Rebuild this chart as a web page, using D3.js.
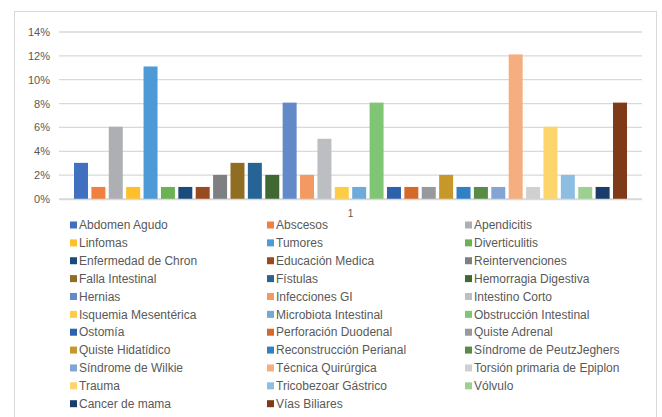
<!DOCTYPE html>
<html><head><meta charset="utf-8">
<script src="https://cdn.jsdelivr.net/npm/d3@7"></script>
<style>html,body{margin:0;padding:0;background:#fff;}svg{display:block;}</style>
</head><body>
<svg id="c" width="662" height="417"></svg>
<script>
const categories = ["1"];
const seriesNames = ["Abdomen Agudo","Abscesos","Apendicitis","Linfomas","Tumores","Diverticulitis","Enfermedad de Chron","Educación Medica","Reintervenciones","Falla Intestinal","Fístulas","Hemorragia Digestiva","Hernias","Infecciones GI","Intestino Corto","Isquemia Mesentérica","Microbiota Intestinal","Obstrucción Intestinal","Ostomía","Perforación Duodenal","Quiste Adrenal","Quiste Hidatídico","Reconstrucción Perianal","Síndrome de PeutzJeghers","Síndrome de Wilkie","Técnica Quirúrgica","Torsión primaria de Epiplon","Trauma","Tricobezoar Gástrico","Vólvulo","Cancer de mama","Vías Biliares"];
const seriesValues = [0.0303,0.0101,0.0606,0.0101,0.1111,0.0101,0.0101,0.0101,0.0202,0.0303,0.0303,0.0202,0.0808,0.0202,0.0505,0.0101,0.0101,0.0808,0.0101,0.0101,0.0101,0.0202,0.0101,0.0101,0.0101,0.1212,0.0101,0.0606,0.0202,0.0101,0.0101,0.0808];
const seriesColors = ["#4070BF","#F18040","#AEAFB3","#FFBF2A","#4E9AD6","#6CB254","#1B4A7C","#9A4A1F","#7E7F83","#8F6D23","#276496","#3F6833","#638AC8","#F39A62","#BDBEC2","#FFCC46","#6EABDA","#80C574","#2D61AC","#D4692A","#98999D","#C8972A","#2F80C5","#588B45","#82A5D4","#F5AE80","#CFD0D2","#FCD66C","#8EBDE2","#9DD090","#1A3D6B","#7F3A18"];
const yTicks = [0,0.02,0.04,0.06,0.08,0.10,0.12,0.14];

const svg = d3.select("#c");
const font = "'Liberation Sans', Arial, sans-serif";
const textColor = "#595959";

// frame
svg.append("rect").attr("x",14.5).attr("y",11.5).attr("width",642).attr("height",420)
  .attr("fill","#fff").attr("stroke","#d9d9d9").attr("stroke-width",1);

const plotL = 59, plotR = 642, plotT = 32, plotB = 199;
const y = d3.scaleLinear().domain([0,0.14]).range([plotB, plotT]);
const x0 = d3.scaleBand().domain(categories).range([plotL, plotR]).paddingInner(0).paddingOuter(0);
const catPad = 15;
const x1 = d3.scaleBand().domain(seriesNames)
  .range([catPad, x0.bandwidth() - catPad + 0.0]).paddingInner(0.196).paddingOuter(0);

// gridlines
svg.append("g").selectAll("line").data(yTicks).join("line")
  .attr("x1",plotL).attr("x2",plotR)
  .attr("y1",d=>y(d)).attr("y2",d=>y(d))
  .attr("stroke","#d9d9d9").attr("stroke-width",1.3);

// y axis labels
const yAxis = d3.axisLeft(y).tickValues(yTicks).tickFormat(d3.format(".0%")).tickSize(0).tickPadding(9);
const ya = svg.append("g").attr("transform",`translate(${plotL},0)`).call(yAxis);
ya.select(".domain").remove();
ya.selectAll("text").attr("fill",textColor).style("font-family",font).style("font-size","11px");

// bars
const g = svg.append("g");
categories.forEach(cat => {
  g.selectAll("rect.b").data(seriesNames.map((n,i)=>({n,v:seriesValues[i],c:seriesColors[i]}))).join("rect")
    .attr("class","b")
    .attr("x",d=>x0(cat)+x1(d.n)).attr("width",x1.bandwidth())
    .attr("y",d=>y(d.v)).attr("height",d=>plotB - y(d.v))
    .attr("fill",d=>d.c);
});

// x axis baseline + label
svg.append("line").attr("x1",plotL).attr("x2",plotR).attr("y1",plotB+0.5).attr("y2",plotB+0.5)
  .attr("stroke","#d9d9d9").attr("stroke-width",1.3);
const xAxis = d3.axisBottom(x0).tickSize(0).tickPadding(11);
const xa = svg.append("g").attr("transform",`translate(0,${plotB})`).call(xAxis);
xa.select(".domain").remove();
xa.selectAll("text").attr("fill",textColor).style("font-family",font).style("font-size","10px");

// legend
const colX = [70, 267, 465];
const rowY0 = 225, rowStep = 17.87;
const leg = svg.append("g");
seriesNames.forEach((n,i)=>{
  const col = i % 3, row = Math.floor(i/3);
  const gx = colX[col], gy = rowY0 + row*rowStep;
  leg.append("rect").attr("x",gx).attr("y",gy-3.5).attr("width",7).attr("height",7).attr("fill",seriesColors[i]);
  leg.append("text").attr("x",gx+9).attr("y",gy).attr("dy","0.35em")
    .attr("fill",textColor).style("font-family",font).style("font-size","12px").text(n);
});
</script>
</body></html>
